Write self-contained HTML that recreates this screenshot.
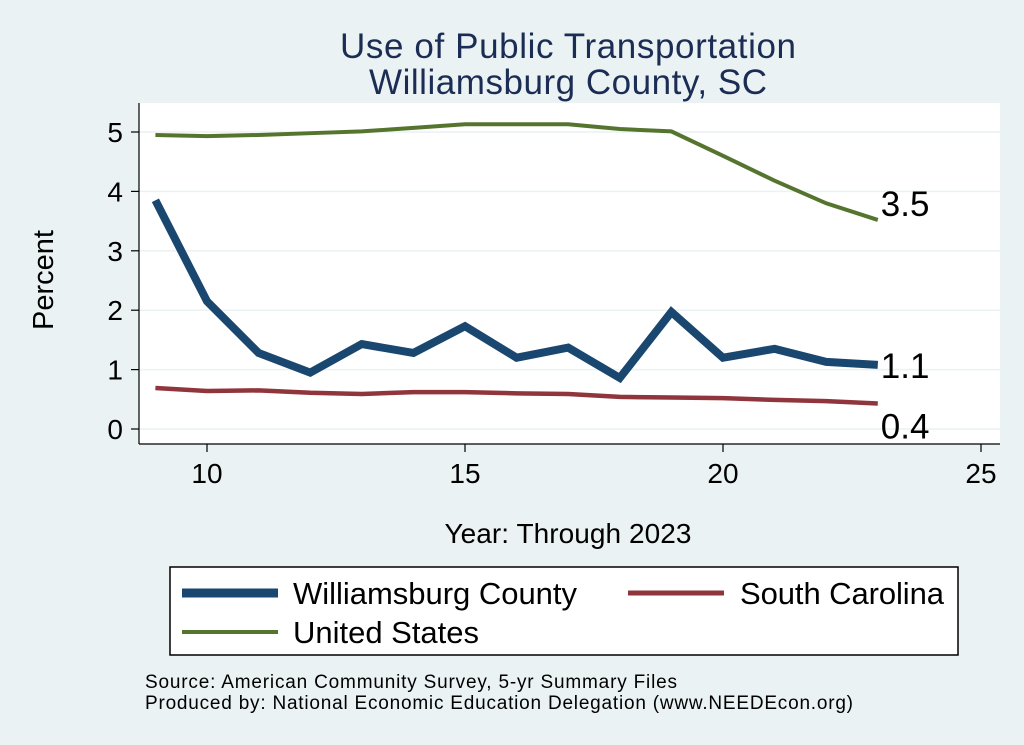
<!DOCTYPE html>
<html><head><meta charset="utf-8"><style>
body{margin:0;background:#eaf2f3;}
svg{display:block;font-family:"Liberation Sans",Arial,sans-serif;}
</style></head><body>
<svg id="chart" width="1024" height="745">
<rect x="0" y="0" width="1024" height="745" fill="#eaf2f3"/>
<text x="568" y="58" font-size="35" fill="#1c2d55" text-anchor="middle" textLength="456">Use of Public Transportation</text>
<text x="568" y="94" font-size="35" fill="#1c2d55" text-anchor="middle" textLength="398">Williamsburg County, SC</text>
<rect x="139" y="103" width="861" height="341" fill="#fff"/>
<g id="grid"></g>
<g id="series"></g>
<g id="axes"></g>
<text transform="translate(53,280) rotate(-90)" font-size="29" text-anchor="middle" fill="#000">Percent</text>
<text x="568" y="543" font-size="28" text-anchor="middle" fill="#000" textLength="247">Year: Through 2023</text>
<g>
<rect x="170" y="567" width="788" height="88" fill="#fff" stroke="#000" stroke-width="1.5"/>
<line x1="182" y1="593" x2="278" y2="593" stroke="#1a476f" stroke-width="9"/>
<text x="293" y="604" font-size="31" textLength="284">Williamsburg County</text>
<line x1="628" y1="593" x2="724" y2="593" stroke="#90353b" stroke-width="5"/>
<text x="740" y="604" font-size="31" textLength="204">South Carolina</text>
<line x1="182" y1="632" x2="278" y2="632" stroke="#55752f" stroke-width="4"/>
<text x="293" y="643" font-size="31" textLength="186">United States</text>
</g>
<text x="145" y="688" font-size="19" textLength="532">Source: American Community Survey, 5-yr Summary Files</text>
<text x="145" y="709" font-size="19" textLength="708">Produced by: National Economic Education Delegation (www.NEEDEcon.org)</text>
</svg>
<script>
const years=[9,10,11,12,13,14,15,16,17,18,19,20,21,22,23];
const williamsburg=[3.85,2.15,1.28,0.95,1.43,1.28,1.73,1.2,1.37,0.86,1.97,1.2,1.35,1.13,1.08];
const southCarolina=[0.69,0.64,0.65,0.61,0.59,0.62,0.62,0.6,0.59,0.54,0.53,0.52,0.49,0.47,0.43];
const unitedStates=[4.95,4.93,4.95,4.98,5.01,5.07,5.13,5.13,5.13,5.05,5.01,4.6,4.18,3.8,3.52];
const xTicks=[10,15,20,25];
const yTicks=[0,1,2,3,4,5];
const endLabels=["1.1","0.4","3.5"];
const NS="http://www.w3.org/2000/svg";
const X=v=>207+(v-10)*51.6;
const Y=v=>429-v*59.4;
function mk(tag,attrs,parent){const e=document.createElementNS(NS,tag);for(const k in attrs)e.setAttribute(k,attrs[k]);parent.appendChild(e);return e;}
const grid=document.getElementById('grid'),axes=document.getElementById('axes'),ser=document.getElementById('series');
yTicks.forEach(t=>{
 const g=mk('line',{x1:139,x2:1000,y1:Y(t),y2:Y(t),stroke:'#eaf2f3','stroke-width':1.5},grid);
 
 
 const tk=mk('line',{x1:131,x2:139,y1:Y(t),y2:Y(t),stroke:'#000','stroke-width':1.2},axes);
 
 
 const tx=mk('text',{x:123,y:Y(t)+10,'font-size':28,'text-anchor':'end'},axes);
 tx.textContent=t;
 
 
});
xTicks.forEach(t=>{
 const tk=mk('line',{x1:X(t),x2:X(t),y1:444,y2:452,stroke:'#000','stroke-width':1.2},axes);
 
 
 const tx=mk('text',{x:X(t),y:483,'font-size':28,'text-anchor':'middle'},axes);
 tx.textContent=t;
 
 
});
const ya=mk('line',{x1:139,x2:139,y1:103,y2:444,stroke:'#000','stroke-width':1.2},axes);


const xa=mk('line',{x1:139,x2:1000,y1:444,y2:444,stroke:'#000','stroke-width':1.2},axes);


const defs=[[williamsburg,'#1a476f',8,'line-williamsburg',13],[southCarolina,'#90353b',4.5,'line-south-carolina',35],[unitedStates,'#55752f',4,'line-united-states',-4]];
defs.forEach((d,i)=>{
 const pts=years.map((y,j)=>X(y)+','+Y(d[0][j])).join(' ');
 const p=mk('polyline',{points:pts,fill:'none',stroke:d[1],'stroke-width':d[2],'stroke-linejoin':'miter'},ser);
 
 
 const last=d[0][d[0].length-1];
 const tx=mk('text',{x:X(years[years.length-1])+3,y:Y(last)+d[4],'font-size':35},ser);
 tx.textContent=endLabels[i];
 
 
});
</script>
</body></html>
